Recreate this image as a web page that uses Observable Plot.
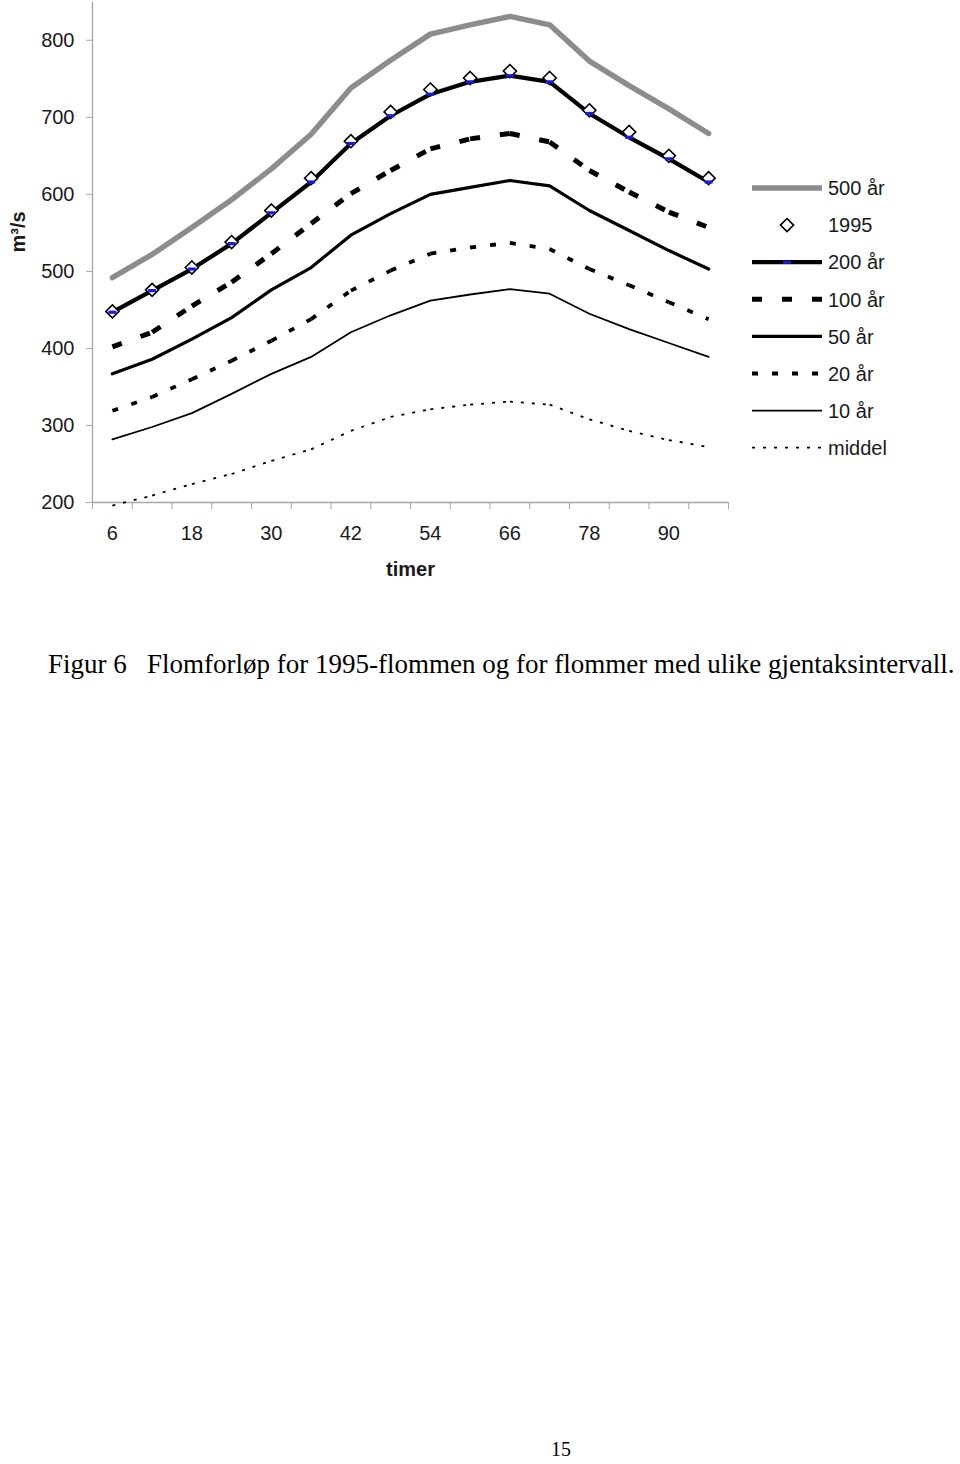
<!DOCTYPE html>
<html>
<head>
<meta charset="utf-8">
<script src="https://cdn.jsdelivr.net/npm/d3@7"></script>
<script src="https://cdn.jsdelivr.net/npm/@observablehq/plot@0.6"></script>
<style>
  body { margin: 0; background: #fff; }
  #page { position: relative; width: 960px; height: 1464px; overflow: hidden; background: #fff; }
  #chart, #overlay { position: absolute; left: 0; top: 0; }
</style>
</head>
<body>
<div id="page">
  <div id="chart"></div>
  <svg id="overlay" width="960" height="1464"></svg>
</div>
<script>
// ---------- data ----------
const hours = [6, 12, 18, 24, 30, 36, 42, 48, 54, 60, 66, 72, 78, 84, 90, 96];
const xTickLabels = [6, 18, 30, 42, 54, 66, 78, 90];
const yTicks = [200, 300, 400, 500, 600, 700, 800];
const xDomain = [3, 99];
const yDomain = [200, 849];

const seriesNames = ["500 år", "1995", "200 år", "100 år", "50 år", "20 år", "10 år", "middel"];
const q500 = [492, 522, 557, 593, 633, 678, 738, 774, 808, 820, 831, 820, 773, 741, 711, 679];
const q1995 = [448, 476, 505, 538, 579, 621, 669, 707, 736, 751, 760, 751, 709, 681, 650, 621];
const q200 = [447, 475, 503, 536, 576, 616, 666, 702, 730, 746, 754, 746, 705, 674, 646, 616];
const q100 = [402, 421, 455, 486, 523, 562, 601, 631, 659, 672, 679, 668, 631, 603, 577, 557];
const q50 = [367, 386, 412, 440, 476, 505, 547, 575, 600, 609, 618, 611, 579, 553, 527, 503];
const q20 = [319, 337, 360, 384, 410, 438, 475, 501, 523, 531, 537, 529, 503, 482, 460, 438];
const q10 = [282, 298, 316, 341, 367, 389, 421, 443, 462, 470, 477, 471, 445, 425, 407, 389];
const qMiddel = [196, 209, 224, 237, 254, 269, 293, 311, 321, 327, 331, 327, 308, 293, 281, 272];

const xTitle = "timer";
const yTitle = "m³/s";
const captionLabel = "Figur 6";
const captionText = "Flomforløp for 1995-flommen og for flommer med ulike gjentaksintervall.";
const pageNumber = "15";

// ---------- styles ----------
const axisGray = "#a6a6a6";
const textColor = "#1a1a1a";
const font = "'Liberation Sans', Arial, sans-serif";
const serif = "'Liberation Serif', 'Times New Roman', serif";
const blue = "#1c1cd6";
const styles = {
  "500 år": {stroke: "#8c8c8c", width: 5.5, dash: null},
  "1995":   {marker: true},
  "200 år": {stroke: "#000", width: 4.2, dash: null, blue: true},
  "100 år": {stroke: "#000", width: 5, dash: "10,20"},
  "50 år":  {stroke: "#000", width: 3.2, dash: null},
  "20 år":  {stroke: "#000", width: 3.8, dash: "6,14"},
  "10 år":  {stroke: "#000", width: 1.8, dash: null},
  "middel": {stroke: "#000", width: 1.8, dash: "3,8"}
};
const seriesValues = {
  "500 år": q500, "1995": q1995, "200 år": q200, "100 år": q100,
  "50 år": q50, "20 år": q20, "10 år": q10, "middel": qMiddel
};

const toPoints = vals => hours.map((h, i) => ({h, v: vals[i]}));
const toSegments = vals => hours.slice(1).map((h, i) => ({h1: hours[i], v1: vals[i], h2: h, v2: vals[i + 1]}));
const boundaries = hours.map(h => h - 3).concat([hours[hours.length - 1] + 3]);

const blueDash = {
  draw(ctx) {
    ctx.moveTo(-4, -1.6); ctx.lineTo(4, -1.6); ctx.lineTo(4, 1.6); ctx.lineTo(-4, 1.6); ctx.closePath();
  }
};

function lineMarks(name) {
  const s = styles[name], vals = seriesValues[name];
  if (s.marker) {
    return [Plot.dot(toPoints(vals), {x: "h", y: "v", symbol: "diamond2", r: 5.9, fill: "#fff", stroke: "#000", strokeWidth: 1.6})];
  }
  if (s.dash) {
    return [Plot.link(toSegments(vals), {x1: "h1", y1: "v1", x2: "h2", y2: "v2", stroke: s.stroke, strokeWidth: s.width, strokeDasharray: s.dash})];
  }
  return [Plot.line(toPoints(vals), {x: "h", y: "v", stroke: s.stroke, strokeWidth: s.width, strokeLinejoin: "round"})];
}
function pointMarks(name) {
  const s = styles[name], vals = seriesValues[name];
  return s.blue ? [Plot.dot(toPoints(vals), {x: "h", y: "v", symbol: blueDash, fill: blue, stroke: "none"})] : [];
}

const drawOrder = ["middel", "10 år", "20 år", "50 år", "100 år", "200 år", "1995", "500 år"];

const chart = Plot.plot({
  width: 960,
  height: 600,
  marginLeft: 92,
  marginRight: 232,
  marginTop: 2,
  marginBottom: 98,
  style: {fontFamily: font, fontSize: "20px", background: "transparent", color: textColor},
  x: {type: "linear", domain: xDomain, axis: null},
  y: {type: "linear", domain: yDomain, axis: null},
  marks: [
    Plot.ruleY([yDomain[0]], {stroke: axisGray, strokeWidth: 1.3}),
    Plot.ruleX([xDomain[0]], {stroke: axisGray, strokeWidth: 1.3}),
    Plot.axisY(yTicks, {tickSize: 6, tickPadding: 12, stroke: axisGray, fill: textColor, fontSize: 20, label: null}),
    Plot.axisX(boundaries, {tickSize: 7, tickFormat: () => "", stroke: axisGray, label: null}),
    Plot.axisX(xTickLabels, {tickSize: 0, tickPadding: 23, fill: textColor, fontSize: 20, label: null}),
    Plot.text([xTitle], {text: d => d, frameAnchor: "bottom", dy: 73, fontWeight: "bold", fontSize: 20, fill: textColor}),
    Plot.text([yTitle], {text: d => d, frameAnchor: "left", dx: -74, rotate: -90, fontWeight: "bold", fontSize: 20, fill: textColor}),
    ...drawOrder.flatMap(lineMarks),
    ...drawOrder.flatMap(pointMarks)
  ]
});
document.getElementById("chart").appendChild(chart);

// ---------- legend ----------
const lg = d3.select("#overlay");
const lx0 = 752, lx1 = 822, ltx = 828, ly0 = 188, lstep = 37.1;
seriesNames.forEach((name, i) => {
  const s = styles[name], y = ly0 + i * lstep;
  if (s.marker) {
    const sym = d3.symbol(d3.symbolDiamond2, Math.PI * 5.9 * 5.9);
    lg.append("path").attr("d", sym()).attr("transform", `translate(${(lx0 + lx1) / 2},${y})`)
      .attr("fill", "#fff").attr("stroke", "#000").attr("stroke-width", 1.6);
  } else {
    lg.append("line").attr("x1", lx0).attr("x2", lx1).attr("y1", y).attr("y2", y)
      .attr("stroke", s.stroke).attr("stroke-width", s.width)
      .attr("stroke-dasharray", s.dash);
    if (s.blue) {
      lg.append("rect").attr("x", (lx0 + lx1) / 2 - 4).attr("y", y - 1.6).attr("width", 8).attr("height", 3.2).attr("fill", blue);
    }
  }
  lg.append("text").attr("x", ltx).attr("y", y).attr("dy", "0.36em")
    .attr("font-family", font).attr("font-size", 20).attr("fill", textColor).text(name);
});

// ---------- caption and page number ----------
lg.append("text").attr("x", 48).attr("y", 673).attr("font-family", serif).attr("font-size", 27).attr("fill", "#000").text(captionLabel);
lg.append("text").attr("x", 147).attr("y", 673).attr("font-family", serif).attr("font-size", 27).attr("fill", "#000").text(captionText);
lg.append("text").attr("x", 561).attr("y", 1456).attr("text-anchor", "middle").attr("font-family", serif).attr("font-size", 20).attr("fill", "#000").text(pageNumber);
</script>
</body>
</html>
